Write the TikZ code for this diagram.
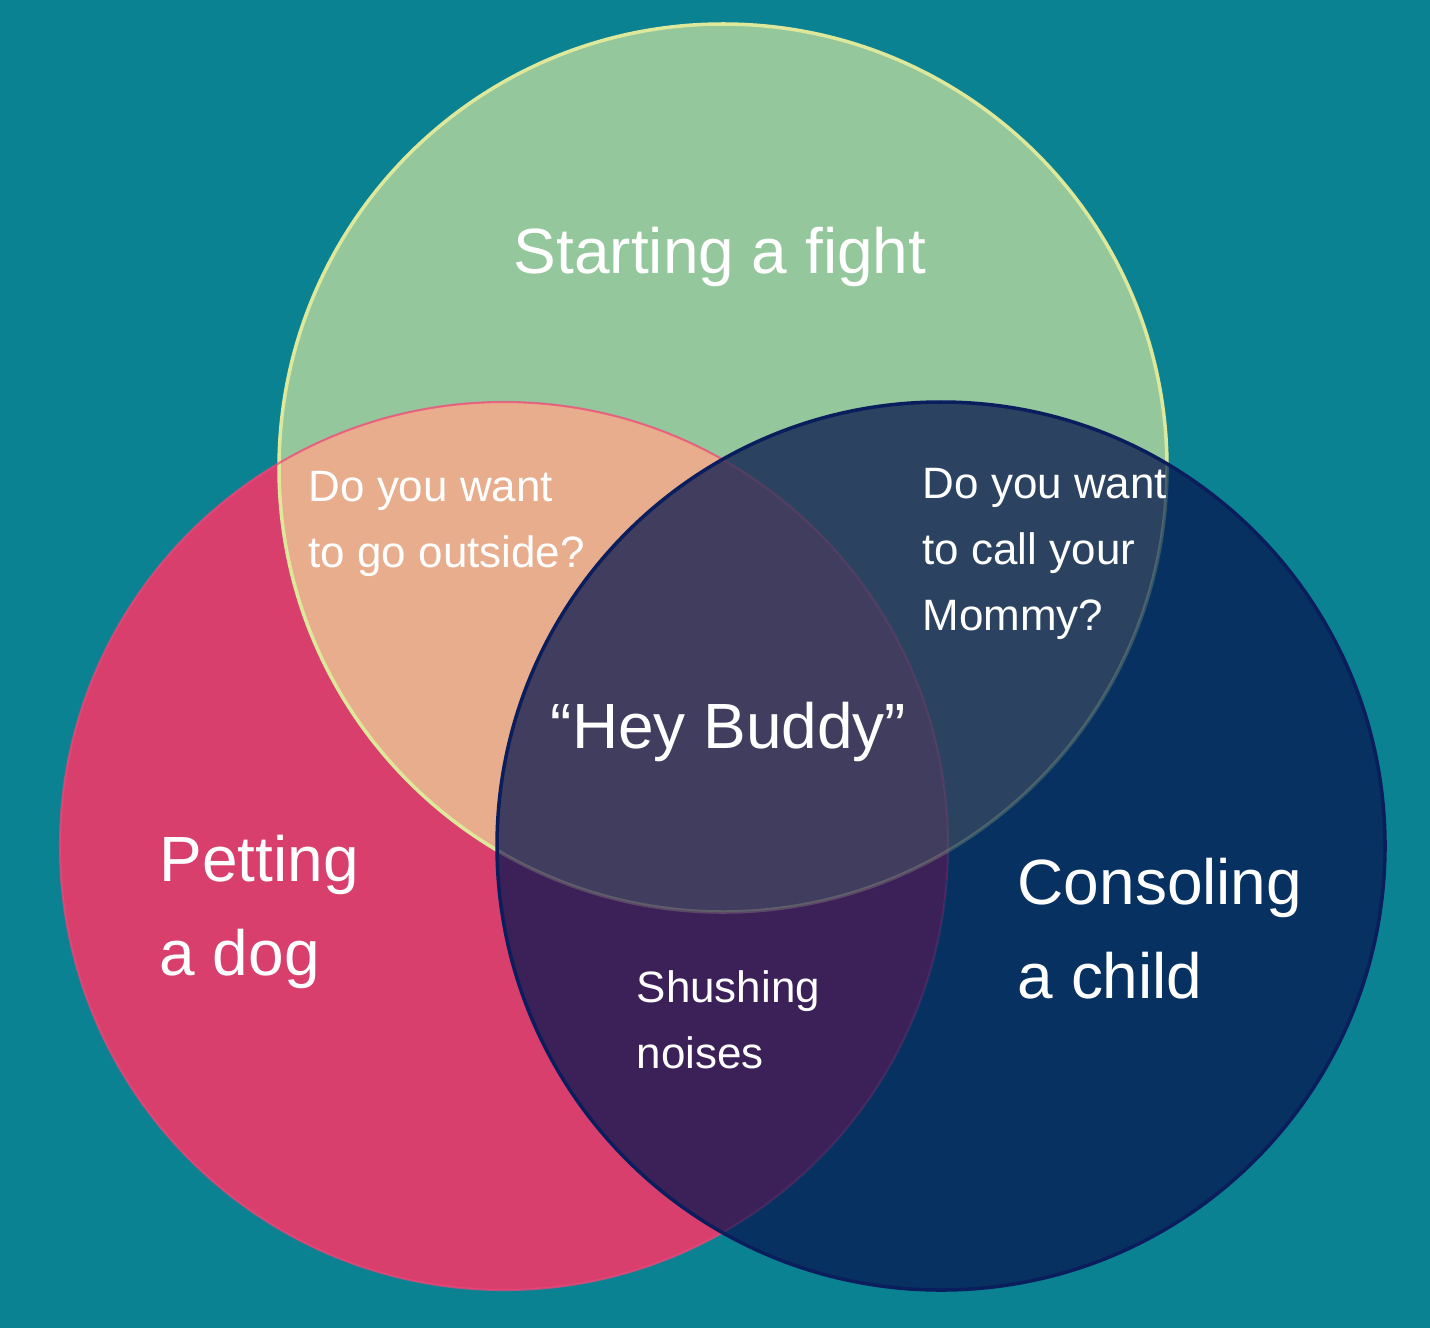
\documentclass[tikz,border=0pt]{standalone}
\usepackage{fontspec}
\setmainfont{Liberation Sans}
\usetikzlibrary{positioning}
\definecolor{sea}{RGB}{10,130,146}
\definecolor{mint}{RGB}{149,199,156}
\definecolor{rose}{RGB}{216,63,109}
\definecolor{navy}{RGB}{7,49,96}
\definecolor{peach}{RGB}{232,173,140}
\definecolor{slate}{RGB}{43,67,96}
\definecolor{plum}{RGB}{60,33,89}
\definecolor{dusk}{RGB}{64,61,95}
\definecolor{lime}{RGB}{222,232,154}
\definecolor{pink}{RGB}{242,69,122}
\definecolor{ink}{RGB}{10,30,94}
\tikzset{
  big/.style={text=white,inner sep=0pt,align=left,font=\fontsize{18.2}{26.5}\selectfont},
  small/.style={text=white,inner sep=0pt,align=left,font=\fontsize{12.5}{18.7}\selectfont},
  rim/.style={line width=#1},
  rim/.default=1pt,
}
\begin{document}
\begin{tikzpicture}
  \fill[sea] (0,0) rectangle (14.30,-13.28);
  \useasboundingbox (0,0) rectangle (14.30,-13.28);
  \coordinate (g) at (7.23,-4.68);
  \coordinate (r) at (5.04,-8.46);
  \coordinate (b) at (9.41,-8.46);
  \def\rad{4.44}
  % circles outside the blue one
  \fill[mint] (g) circle (\rad);
  \fill[rose] (r) circle (\rad);
  \begin{scope}
    \clip (r) circle (\rad);
    \fill[peach] (g) circle (\rad);
  \end{scope}
  \draw[lime,rim] (g) circle (\rad);
  \draw[pink,rim=0.6pt,opacity=0.7] (r) circle (\rad);
  % blue circle and its overlaps
  \fill[navy] (b) circle (\rad);
  \begin{scope}
    \clip (b) circle (\rad);
    \fill[slate] (g) circle (\rad);
    \begin{scope}
      \clip (r) circle (\rad);
      \fill[plum] (r) circle (\rad);
      \clip (g) circle (\rad);
      \fill[dusk] (g) circle (\rad);
    \end{scope}
    \draw[lime,rim,opacity=0.2] (g) circle (\rad);
    \draw[pink,rim=0.6pt,opacity=0.15] (r) circle (\rad);
  \end{scope}
  \draw[ink,rim] (b) circle (\rad);
  % labels
  \node[big,anchor=base] (fight) at (7.20,-2.73) {Starting a fight};
  \node[big,anchor=base] (buddy) at (7.285,-7.48) {“Hey Buddy”};
  \node[big,anchor=base west] (dog) at (1.59,-9.75) {Petting\\a dog};
  \node[big,anchor=base west] (child) at (10.17,-9.98) {Consoling\\a child};
  \node[small,anchor=base west] (outside) at (3.08,-5.67) {Do you want\\to go outside?};
  \node[small,anchor=base west] (mommy) at (9.22,-6.30) {Do you want\\to call your\\Mommy?};
  \node[small,anchor=base west] (shush) at (6.36,-10.68) {Shushing\\noises};
\end{tikzpicture}
\end{document}
